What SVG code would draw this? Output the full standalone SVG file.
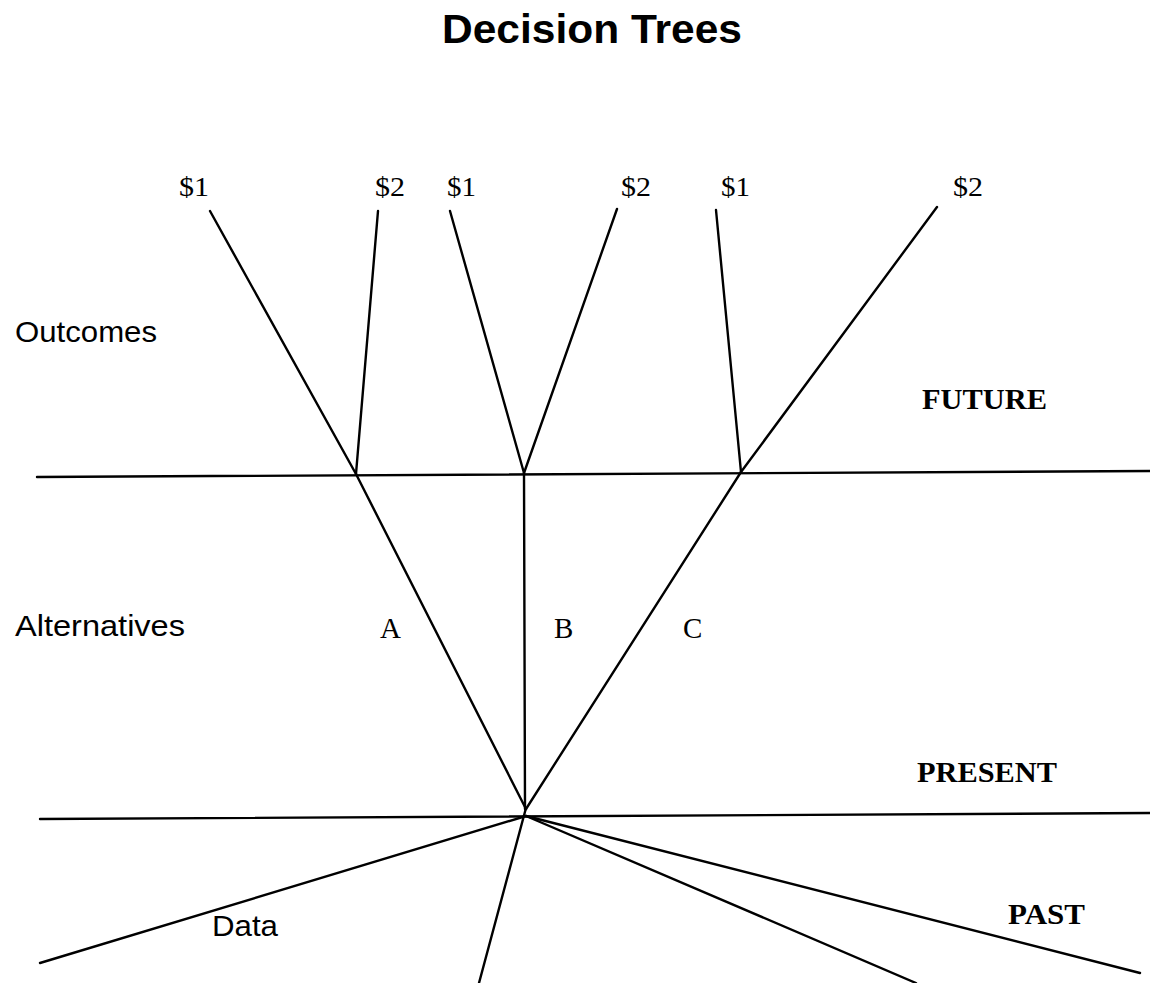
<svg xmlns="http://www.w3.org/2000/svg" width="1150" height="983" viewBox="0 0 1150 983">
<style>
.ln{stroke:#000;stroke-width:2.4;fill:none;stroke-linecap:round}
.sans{font-family:"Liberation Sans",Arial,sans-serif;fill:#000}
.serif{font-family:"Liberation Serif","Times New Roman",serif;fill:#000}
.bold{font-weight:bold}
</style>
<rect width="1150" height="983" fill="#fff"/>
<text id="title" class="sans bold" x="442" y="43" font-size="40" textLength="300" lengthAdjust="spacingAndGlyphs">Decision Trees</text>
<g id="connectors">
<line class="ln" x1="37" y1="477" x2="1150" y2="471"/>
<line class="ln" x1="40" y1="819" x2="1150" y2="813"/>
<line class="ln" x1="210" y1="211" x2="356" y2="474"/>
<line class="ln" x1="378" y1="211" x2="356" y2="474"/>
<line class="ln" x1="450" y1="211" x2="524" y2="473"/>
<line class="ln" x1="617" y1="209" x2="524" y2="473"/>
<line class="ln" x1="716" y1="210" x2="741" y2="472"/>
<line class="ln" x1="937" y1="207" x2="741" y2="472"/>
<line class="ln" x1="356" y1="474" x2="526" y2="809"/>
<line class="ln" x1="524" y1="473" x2="525" y2="809"/>
<line class="ln" x1="741" y1="472" x2="526" y2="809"/>
<line class="ln" x1="526" y1="816" x2="40" y2="963"/>
<line class="ln" x1="526" y1="808" x2="479" y2="983"/>
<line class="ln" x1="526" y1="816" x2="916" y2="983"/>
<line class="ln" x1="526" y1="816" x2="1140" y2="973"/>
</g>
<g id="outcome-labels" class="serif" font-size="28">
<text x="179" y="196" textLength="30" lengthAdjust="spacingAndGlyphs">$1</text>
<text x="375" y="196" textLength="30" lengthAdjust="spacingAndGlyphs">$2</text>
<text x="447" y="196" textLength="29" lengthAdjust="spacingAndGlyphs">$1</text>
<text x="621" y="196" textLength="30" lengthAdjust="spacingAndGlyphs">$2</text>
<text x="721" y="196" textLength="29" lengthAdjust="spacingAndGlyphs">$1</text>
<text x="953" y="196" textLength="30" lengthAdjust="spacingAndGlyphs">$2</text>
</g>
<g id="alt-labels" class="serif" font-size="29">
<text x="380" y="638">A</text>
<text x="554" y="638">B</text>
<text x="683" y="638">C</text>
</g>
<g id="row-labels" class="sans" font-size="30">
<text x="15" y="342" textLength="142" lengthAdjust="spacingAndGlyphs">Outcomes</text>
<text x="15" y="636" textLength="170" lengthAdjust="spacingAndGlyphs">Alternatives</text>
<text x="212" y="936" textLength="66" lengthAdjust="spacingAndGlyphs">Data</text>
</g>
<g id="time-labels" class="serif bold" font-size="29">
<text x="922" y="409" textLength="125" lengthAdjust="spacingAndGlyphs">FUTURE</text>
<text x="917" y="782" textLength="140" lengthAdjust="spacingAndGlyphs">PRESENT</text>
<text x="1008" y="924" textLength="77" lengthAdjust="spacingAndGlyphs">PAST</text>
</g>
</svg>
